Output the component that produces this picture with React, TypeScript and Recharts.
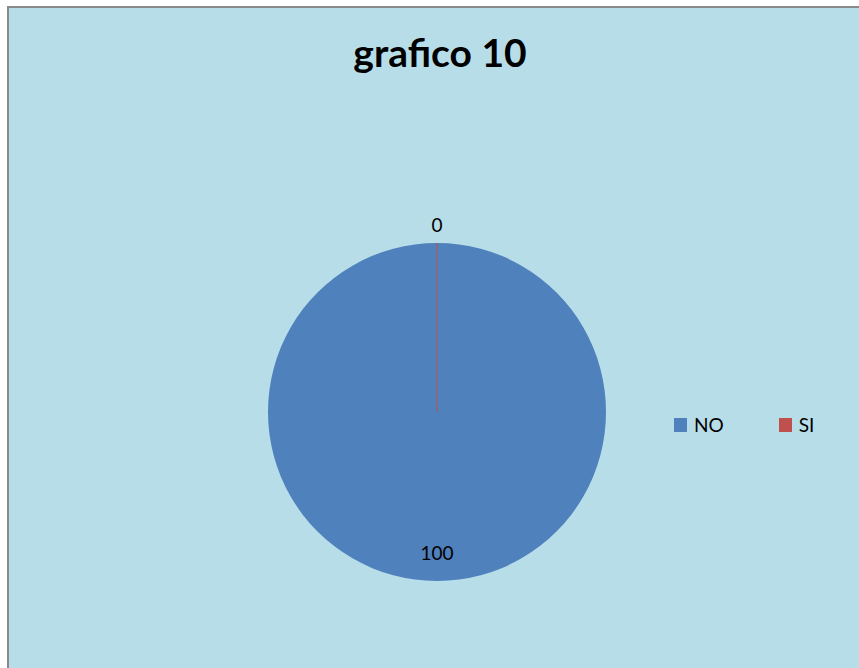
import { Cell, Legend, Pie, PieChart, Sector } from "recharts";

const categories = ["NO", "SI"];
const values = [100, 0];
const colors = ["#4F81BD", "#C0504D"];

const data = categories.map((name, i) => ({ name, value: values[i], color: colors[i] }));

const RAD = Math.PI / 180;
const FONT = "Lato, 'Open Sans', sans-serif";

function renderLabel(p: any) {
  const { cx, cy, midAngle, outerRadius, value } = p;
  // zero-value slice sits outside, the full slice label sits inside near the edge
  const r = value === 0 ? outerRadius + 19 : outerRadius - 29;
  const x = cx + r * Math.cos(-midAngle * RAD);
  const y = cy + r * Math.sin(-midAngle * RAD);
  return (
    <text x={x} y={y} textAnchor="middle" dominantBaseline="central" fill="#000" fontSize={19} fontFamily={FONT}>
      {value}
    </text>
  );
}

// a zero-width slice is drawn as a hairline from the centre, like the spreadsheet does
function renderSlice(p: any) {
  const { cx, cy, startAngle, endAngle, outerRadius, fill } = p;
  if (startAngle === endAngle) {
    const x = cx + outerRadius * Math.cos(-startAngle * RAD);
    const y = cy + outerRadius * Math.sin(-startAngle * RAD);
    return <line x1={cx} y1={cy} x2={x} y2={y} stroke={fill} strokeWidth={1} />;
  }
  return <Sector {...p} stroke="none" />;
}

function LegendBox({ payload }: any) {
  return (
    <div style={{ display: "flex", fontFamily: FONT, fontSize: 19, color: "#000" }}>
      {(payload || []).map((e: any, i: number) => (
        <div key={i} style={{ display: "flex", alignItems: "center", marginRight: 55 }}>
          <span style={{ width: 13, height: 14, background: e.color, display: "inline-block", marginRight: 7 }} />
          <span>{e.value}</span>
        </div>
      ))}
    </div>
  );
}

export default function App() {
  return (
    <div
      style={{
        position: "absolute",
        left: 7,
        top: 6,
        width: 860,
        height: 670,
        background: "#B7DDE8",
        borderTop: "2px solid #8a8a8a",
        borderLeft: "2px solid #8a8a8a",
        overflow: "hidden",
      }}
    >
      <div
        style={{
          position: "absolute",
          left: 0,
          top: 21,
          width: 862,
          textAlign: "center",
          fontFamily: FONT,
          fontWeight: 700,
          fontSize: 39,
          lineHeight: "normal",
          color: "#000",
        }}
      >
        grafico 10
      </div>
      <PieChart
        width={858}
        height={668}
        margin={{ top: 0, right: 0, bottom: 0, left: 0 }}
        style={{ position: "absolute", left: 0, top: 0 }}
      >
        <Pie
          data={data}
          dataKey="value"
          nameKey="name"
          cx={428}
          cy={404}
          outerRadius={169}
          startAngle={90}
          endAngle={-270}
          isAnimationActive={false}
          label={renderLabel}
          labelLine={false}
          shape={renderSlice}
          inactiveShape={renderSlice}
        >
          {data.map((d, i) => (
            <Cell key={i} fill={d.color} />
          ))}
        </Pie>
        <Legend
          content={LegendBox}
          layout="horizontal"
          verticalAlign="middle"
          align="right"
          wrapperStyle={{ left: 665, top: 405, width: 200 }}
        />
      </PieChart>
    </div>
  );
}
